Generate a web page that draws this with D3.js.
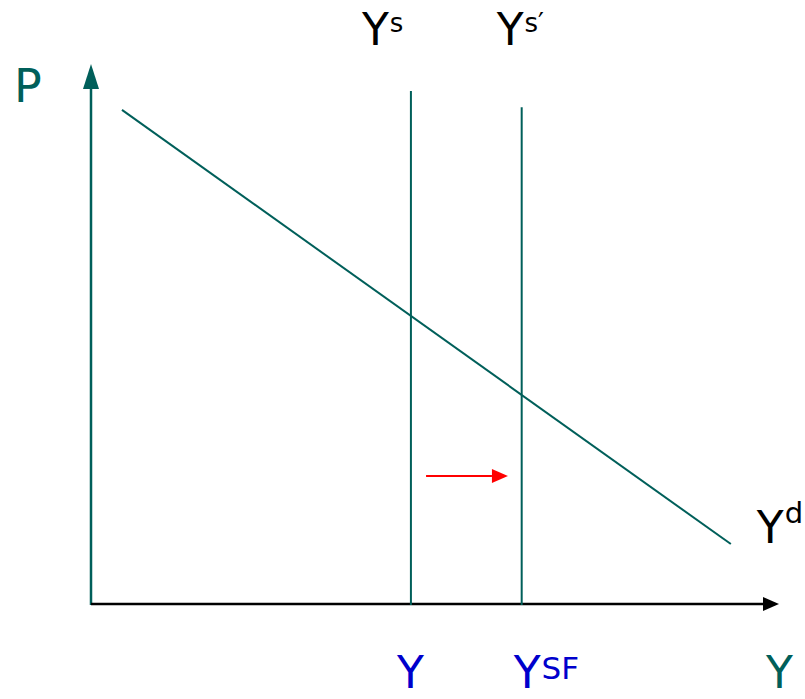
<!DOCTYPE html>
<html>
<head>
<meta charset="utf-8">
<script src="https://cdn.jsdelivr.net/npm/d3@7"></script>
<style>
  body { margin: 0; background: #fff; }
  text { font-family: 'DejaVu Sans', sans-serif; }
</style>
</head>
<body>
<svg id="chart"></svg>
<script>
// Model values, in arbitrary units (Y output, P price level)
const demandCurve = [[0.45, 9.15], [9.30, 1.11]];
const supplyLines = [
  { name: 'Ys', y: 4.65, top: 9.5 },
  { name: "Ys'", y: 6.26, top: 9.2 }
];
const shiftArrow = { from: 4.87, to: 6.06, p: 2.37 };
const axisMax = { y: 10, p: 10 };

const width = 805;
const height = 699;
const teal = '#005f5a';
const blue = '#0000cc';

const x = d3.scaleLinear().domain([0, axisMax.y]).range([91, 779]);
const y = d3.scaleLinear().domain([0, axisMax.p]).range([604, 64]);

const svg = d3.select('#chart')
  .attr('width', width)
  .attr('height', height);

// axes
svg.append('line')
  .attr('x1', x(0)).attr('y1', y(0) + 1)
  .attr('x2', x(0)).attr('y2', y(axisMax.p) + 20)
  .attr('stroke', teal).attr('stroke-width', 2.5);
svg.append('path')
  .attr('d', `M${x(0)},${y(axisMax.p)} L${x(0) - 8},${y(axisMax.p) + 25} L${x(0) + 8},${y(axisMax.p) + 25}Z`)
  .attr('fill', teal);

svg.append('line')
  .attr('x1', x(0)).attr('y1', y(0))
  .attr('x2', x(axisMax.y) - 12).attr('y2', y(0))
  .attr('stroke', '#000').attr('stroke-width', 2.5);
svg.append('path')
  .attr('d', `M${x(axisMax.y)},${y(0)} L${x(axisMax.y) - 16},${y(0) - 7} L${x(axisMax.y) - 16},${y(0) + 7}Z`)
  .attr('fill', '#000');

// demand
svg.append('path')
  .datum(demandCurve)
  .attr('d', d3.line().x(d => x(d[0])).y(d => y(d[1])))
  .attr('fill', 'none')
  .attr('stroke', teal)
  .attr('stroke-width', 2);

// supply lines
svg.selectAll('.supply')
  .data(supplyLines)
  .enter().append('line')
  .attr('class', 'supply')
  .attr('x1', d => x(d.y)).attr('x2', d => x(d.y))
  .attr('y1', d => y(d.top)).attr('y2', y(0) + 1)
  .attr('stroke', teal)
  .attr('stroke-width', 2);

// shift arrow
svg.append('line')
  .attr('x1', x(shiftArrow.from)).attr('y1', y(shiftArrow.p))
  .attr('x2', x(shiftArrow.to) - 16).attr('y2', y(shiftArrow.p))
  .attr('stroke', 'red').attr('stroke-width', 2);
svg.append('path')
  .attr('d', `M${x(shiftArrow.to)},${y(shiftArrow.p)} L${x(shiftArrow.to) - 16},${y(shiftArrow.p) - 7} L${x(shiftArrow.to) - 16},${y(shiftArrow.p) + 7}Z`)
  .attr('fill', 'red');

// labels
const label = (px, py, main, sup, color, size, supSize, dy) => {
  const t = svg.append('text')
    .attr('x', px).attr('y', py)
    .attr('fill', color)
    .attr('font-size', size);
  t.append('tspan').text(main);
  if (sup) {
    t.append('tspan').attr('font-size', supSize).attr('dy', dy).attr('dx', 1).text(sup);
  }
};

label(14, 102, 'P', null, teal, 46);
label(x(supplyLines[0].y) - 49, 45, 'Y', 's', '#000', 44, 26, -13);
label(x(supplyLines[1].y) - 25, 45, 'Y', 's\u2032', '#000', 44, 26, -13);
label(x(demandCurve[1][0]) + 26, 543, 'Y', 'd', '#000', 44, 29, -20);
label(x(supplyLines[0].y) - 14, 688, 'Y', null, blue, 44);
label(x(supplyLines[1].y) - 8, 688, 'Y', 'SF', blue, 44, 31, -9);
label(766, 688, 'Y', null, teal, 44);
</script>
</body>
</html>
